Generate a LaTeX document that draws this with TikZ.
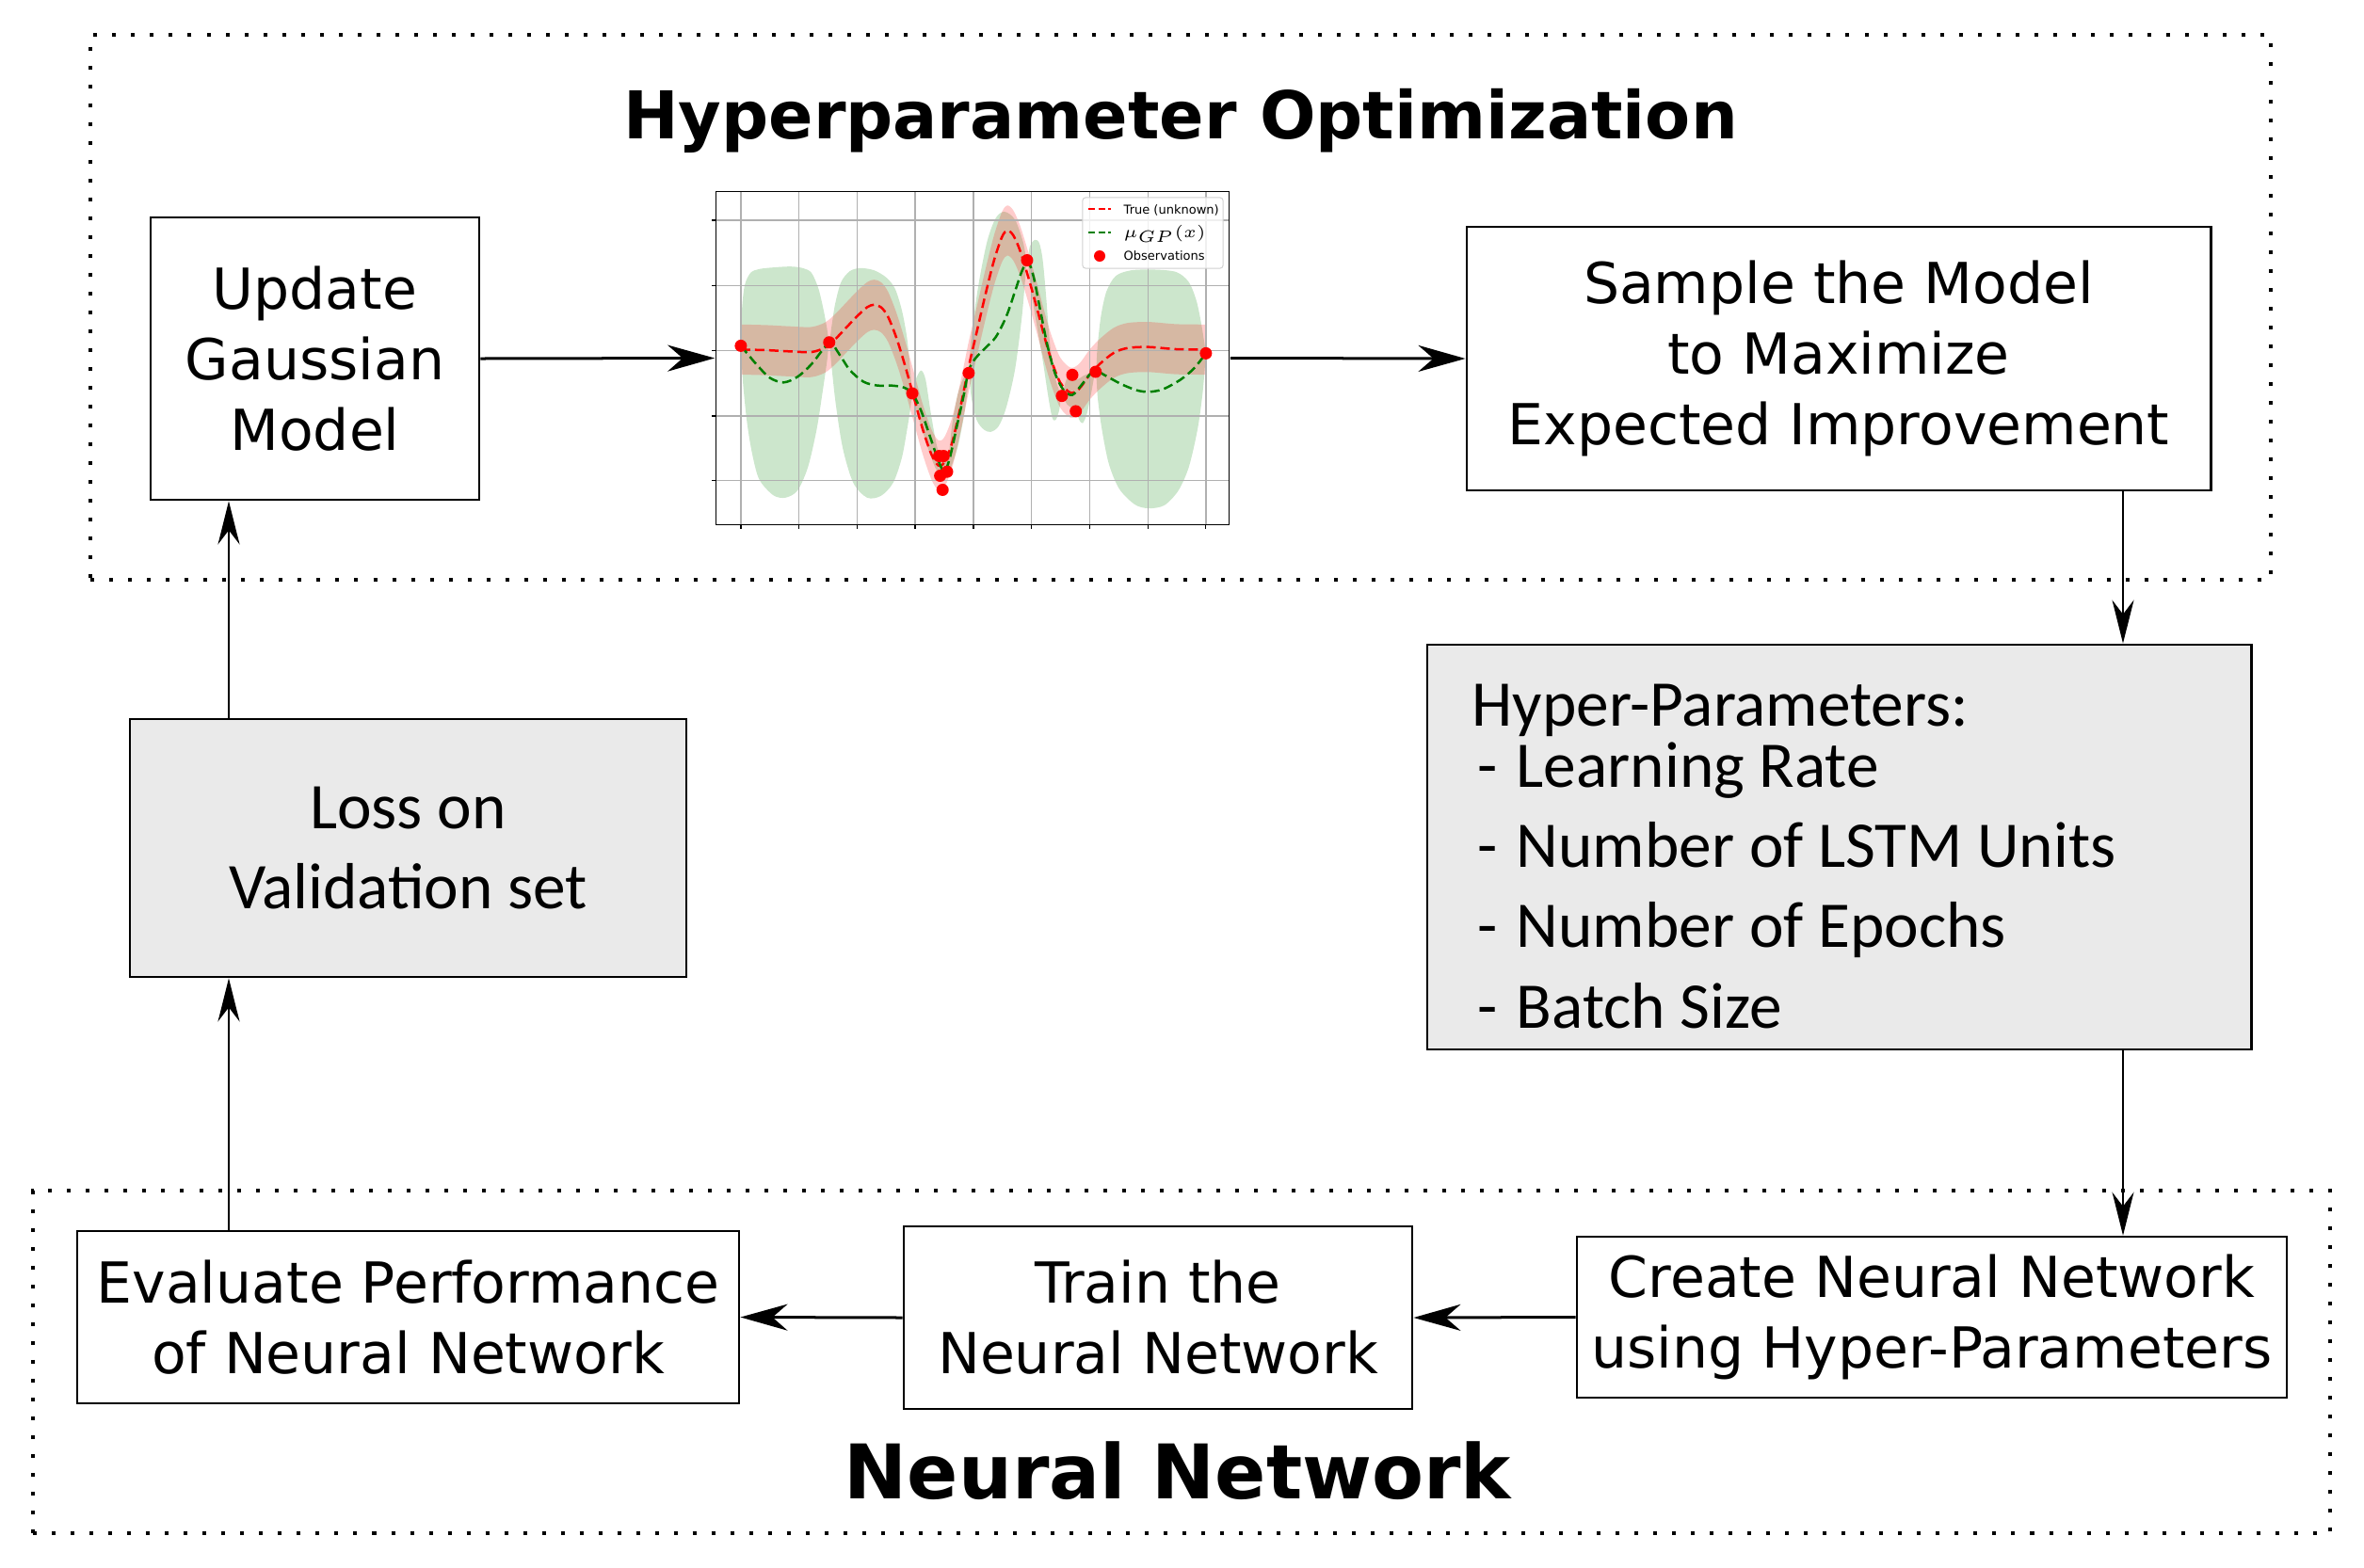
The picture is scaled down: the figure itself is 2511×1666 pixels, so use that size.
\documentclass[tikz,border=0pt]{standalone}
\usepackage{fontspec}
\setmainfont{DejaVu Sans}
\newfontfamily\carlitofont{Carlito}
\usetikzlibrary{arrows.meta}
\definecolor{boxgray}{RGB}{234,234,234}
\definecolor{gpgreen}{RGB}{0,128,0}
\definecolor{gridgray}{RGB}{176,176,176}
\newcommand\fontBox{\fontsize{17.07}{21.34}\selectfont}
\newcommand\fontSeg{\carlitofont\fontsize{19.7}{24.18}\selectfont}
\newcommand\fontTitleA{\fontsize{19.92}{24}\selectfont\bfseries}
\newcommand\fontTitleB{\fontsize{22.76}{27}\selectfont\bfseries}
\newcommand\fontLeg{\fontsize{3.7}{4.5}\selectfont}
\begin{document}
\begin{tikzpicture}[x=0.01cm,y=-0.01cm,
  plainbox/.style={draw, line width=0.025cm, inner sep=0, align=center, font=\fontBox},
  graybox/.style={plainbox, fill=boxgray, font=\fontSeg},
  harrow/.style={line width=0.03cm, -{Stealth[length=0.5cm,width=0.28cm,inset=0.16cm]}},
  varrow/.style={line width=0.024cm, -{Stealth[length=0.46cm,width=0.23cm,inset=0.15cm]}},
  dotframe/.style={draw, line width=0.04cm, dash pattern=on 0.04cm off 0.16cm, inner sep=0},
  gridline/.style={draw=gridgray, line width=0.013cm},
  truecurve/.style={red, line width=0.025cm, dash pattern=on 0.1cm off 0.05cm},
  meancurve/.style={gpgreen, line width=0.025cm, dash pattern=on 0.1cm off 0.05cm},
  obsdot/.style={fill=red},
  legtext/.style={anchor=base west, inner sep=0, font=\fontLeg}
]
\useasboundingbox (0,0) rectangle (2511,1666);

% frames
\node[dotframe, minimum width=23.14cm, minimum height=5.79cm] (hpoframe) at (1254,326.5) {};
\node[dotframe, minimum width=24.38cm, minimum height=3.64cm] (nnframe) at (1255,1447) {};
\node[anchor=base, inner sep=0, font=\fontTitleA] (title1) at (1254,147) {Hyperparameter Optimization};
\node[anchor=base, inner sep=0, font=\fontTitleB] (title2) at (1251,1592) {Neural Network};

% boxes
\node[plainbox, minimum width=3.49cm, minimum height=3.00cm] (update) at (334.5,381) {Update\\Gaussian\\Model};
\node[plainbox, minimum width=7.90cm, minimum height=2.80cm] (sample) at (1953,381) {Sample the Model\\to Maximize\\Expected Improvement};
\node[graybox, minimum width=8.75cm, minimum height=4.30cm] (hyper) at (1953.5,900) {};
\node[anchor=base west, align=left, inner sep=0, font=\fontSeg] (hyptxt) at (1563,1092)
  {Hyper-Parameters:\\[-5.7pt]
   \hspace*{0.06cm}-\hspace{0.2cm}Learning Rate\\
   \hspace*{0.06cm}-\hspace{0.2cm}Number of LSTM Units\\
   \hspace*{0.06cm}-\hspace{0.2cm}Number of Epochs\\
   \hspace*{0.06cm}-\hspace{0.2cm}Batch Size};
\node[graybox, minimum width=5.91cm, minimum height=2.74cm] (loss) at (433.5,901) {Loss on\\Validation set};
\node[plainbox, minimum width=7.03cm, minimum height=1.83cm] (evaluate) at (433.5,1399.5) {Evaluate Performance\\of Neural Network};
\node[plainbox, minimum width=5.40cm, minimum height=1.94cm] (train) at (1230,1400) {Train the\\Neural Network};
\node[plainbox, minimum width=7.54cm, minimum height=1.71cm] (create) at (2052,1399.5) {Create Neural Network\\using Hyper-Parameters};

% plot
\node[inner sep=0, minimum width=5.46cm, minimum height=3.55cm] (plot) at (1033,380.5) {};
\begin{scope}[shift={(740,190)}, x=0.0036996cm, y=-0.0033333cm]
  \fill[gpgreen, opacity=0.2] plot[smooth, tension=0.5] coordinates {
    (127,533) (130,420) (138,340) (155,300) (180,288) (220,283) (270,280) (305,285) (330,300) (350,350) (365,420) (375,480) (381,522)
    (388,470) (398,400) (415,330) (440,295) (470,285) (510,292) (545,315) (570,350) (590,420) (605,510) (615,620) (620,685)
    (630,640) (645,612) (658,640) (672,740) (688,840) (700,885) (712,880) (722,900)
    (735,780) (750,690) (765,640) (775,625) (782,620)
    (790,500) (810,340) (835,200) (860,125) (885,105) (915,130) (938,200) (950,262)
    (958,215) (972,195) (985,205) (995,260) (1005,380) (1015,520) (1030,630) (1042,675) (1050,693)
    (1060,650) (1070,625) (1080,626) (1095,640) (1110,630) (1130,620) (1147,616)
    (1152,540) (1162,440) (1178,360) (1205,310) (1250,292) (1320,290) (1380,298) (1415,330) (1437,390) (1452,470) (1464,557)}
    -- plot[smooth, tension=0.5] coordinates {
    (1464,557) (1455,680) (1440,800) (1415,920) (1385,995) (1345,1042) (1300,1052) (1260,1040) (1215,990) (1185,910) (1165,800) (1153,700) (1147,616)
    (1135,680) (1122,750) (1110,780) (1100,770) (1090,742) (1065,720) (1050,693)
    (1042,740) (1032,770) (1022,762) (1010,690) (995,580) (975,450) (958,330) (950,262)
    (935,440) (915,610) (890,730) (868,790) (845,808) (825,800) (805,770) (790,700) (782,620)
    (778,680) (768,760) (752,850) (735,910) (720,950) (705,960) (700,948)
    (685,920) (665,860) (648,800) (630,735) (620,685)
    (615,730) (605,800) (590,890) (565,970) (530,1012) (490,1018) (450,970) (420,860) (400,720) (388,600) (381,522)
    (375,580) (362,680) (345,800) (320,920) (290,995) (255,1018) (220,1010) (180,960) (160,880) (145,780) (133,650) (127,533)} -- cycle;
  \fill[red, opacity=0.2] plot[smooth, tension=0.5] coordinates {
    (127,465) (200,467) (270,471) (330,473) (370,458) (400,430) (430,395) (460,360) (490,330) (510,322) (530,330) (550,360) (575,430) (600,520) (625,620) (650,720) (675,800) (695,835) (712,825) (735,760) (760,640) (782,520) (805,410) (830,290) (855,180) (878,105) (893,85) (910,100) (930,150) (955,240) (980,340) (1000,425) (1020,500) (1045,570) (1075,603) (1100,590) (1130,545) (1160,510) (1200,475) (1240,460) (1300,457) (1380,464) (1464,465)}
    -- plot[smooth, tension=0.5] coordinates {
    (1464,625) (1380,624) (1300,617) (1240,620) (1200,635) (1160,670) (1130,705) (1100,750) (1075,763) (1045,730) (1020,660) (1000,585) (980,500) (955,400) (930,310) (910,260) (893,245) (878,265) (855,340) (830,450) (805,570) (782,680) (760,800) (735,920) (712,985) (695,995) (675,960) (650,880) (625,780) (600,680) (575,590) (550,520) (530,490) (510,482) (490,490) (460,520) (430,555) (400,590) (370,618) (330,633) (270,631) (200,627) (127,625)} -- cycle;
  \foreach \gx in {127,294,461,628,796,963,1130,1297,1464} {
    \draw[gridline] (\gx,40) -- (\gx,1105);
    \draw[line width=0.012cm] (\gx,1105) -- (\gx,1117);
  }
  \foreach \gy in {132,342,548,757,962} {
    \draw[gridline] (55,\gy) -- (1530,\gy);
    \draw[line width=0.012cm] (44,\gy) -- (55,\gy);
  }
  \draw[truecurve] plot[smooth, tension=0.5] coordinates {
    (127,545) (200,547) (270,551) (330,553) (370,538) (400,510) (430,475) (460,440) (490,410) (510,402) (530,410) (550,440) (575,510) (600,600) (625,700) (650,800) (675,880) (695,915) (712,905) (735,840) (760,720) (782,600) (805,490) (830,370) (855,260) (878,185) (893,165) (910,180) (930,230) (955,320) (980,420) (1000,505) (1020,580) (1045,650) (1075,683) (1100,670) (1130,625) (1160,590) (1200,555) (1240,540) (1300,537) (1380,544) (1464,545)};
  \draw[meancurve] plot[smooth, tension=0.5] coordinates {
    (127,533) (170,590) (210,635) (250,650) (290,632) (330,592) (381,525) (410,560) (440,610) (480,648) (520,660) (560,660) (595,666) (620,685) (645,740) (670,820) (695,900) (712,935) (728,890) (748,790) (768,690) (782,612) (800,575) (830,540) (860,505) (890,440) (915,360) (935,295) (952,265) (968,310) (988,420) (1008,530) (1030,620) (1055,675) (1080,690) (1105,660) (1130,625) (1147,612) (1175,628) (1220,655) (1265,675) (1300,680) (1340,672) (1390,642) (1430,605) (1464,557)};
  \foreach \ox/\oy in {127/533,381/522,620/685,697/885,710/885,700/948,720/935,707/993,782/620,950/260,1050/693,1080/626,1090/742,1147/616,1464/557}
    \fill[obsdot] (\ox,\oy) circle[radius=0.065cm];
  \draw[line width=0.012cm] (55,40) rectangle (1530,1105);
\end{scope}
% legend
\node[draw=gray!35, fill=white, fill opacity=0.8, rounded corners=0.03cm, line width=0.01cm, inner sep=0, minimum width=1.49cm, minimum height=0.75cm] (legend) at (1224.5,247.5) {};
\coordinate (l1a) at (1156,222); \coordinate (l1b) at (1180,222);
\coordinate (l2a) at (1156,247); \coordinate (l2b) at (1180,247);
\draw[truecurve, line width=0.02cm, dash pattern=on 0.07cm off 0.035cm] (l1a) -- (l1b);
\draw[meancurve, line width=0.02cm, dash pattern=on 0.07cm off 0.035cm] (l2a) -- (l2b);
\fill[obsdot] (1168,272) circle[radius=0.06cm];
\node[legtext] (leg1) at (1193,227) {True (unknown)};
\node[legtext] (leg2) at (1193,252) {$\mu_{GP}(x)$};
\node[legtext] (leg3) at (1193,276) {Observations};

% connectors
\coordinate (dropx) at (2255,0);
\coordinate (leftx) at (243,0);
\draw[harrow] (update.east) -- (plot.west);
\draw[harrow] (plot.east) -- (sample.west);
\draw[varrow] (sample.south -| dropx) -- (hyper.north -| dropx);
\draw[varrow] (hyper.south -| dropx) -- (create.north -| dropx);
\draw[harrow] (create.west) -- (train.east);
\draw[harrow] (train.west) -- (evaluate.east);
\draw[varrow] (evaluate.north -| leftx) -- (loss.south -| leftx);
\draw[varrow] (loss.north -| leftx) -- (update.south -| leftx);
\end{tikzpicture}
\end{document}
